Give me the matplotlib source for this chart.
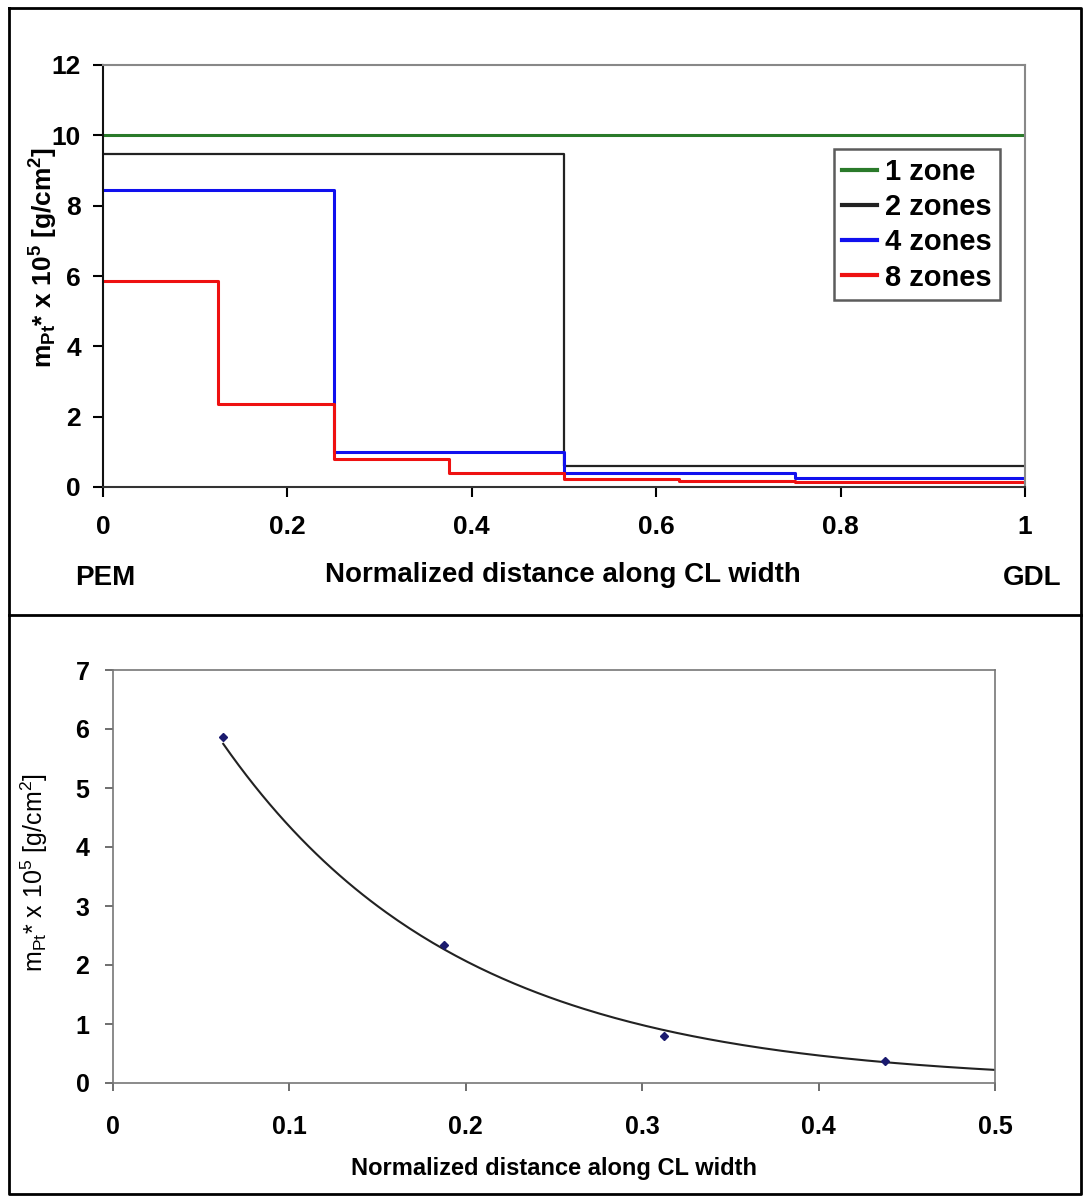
import matplotlib.pyplot as plt
import numpy as np
from matplotlib.lines import Line2D

plt.rcParams['font.family'] = ['Liberation Sans', 'DejaVu Sans']
plt.rcParams['mathtext.fontset'] = 'custom'
plt.rcParams['mathtext.rm'] = 'Liberation Sans'
plt.rcParams['mathtext.it'] = 'Liberation Sans:italic'
plt.rcParams['mathtext.bf'] = 'Liberation Sans:bold'

# top panel: step profiles of Pt loading per zone
edges_1 = [0, 1]
vals_1 = [10.0]
edges_2 = [0, 0.5, 1]
vals_2 = [9.47, 0.6]
edges_4 = [0, 0.25, 0.5, 0.75, 1]
vals_4 = [8.45, 1.0, 0.41, 0.27]
edges_8 = [0, 0.125, 0.25, 0.375, 0.5, 0.625, 0.75, 0.875, 1]
vals_8 = [5.85, 2.35, 0.8, 0.41, 0.24, 0.17, 0.13, 0.13]

# bottom panel: 8-zone midpoints with exponential trend line
pts_x = [0.0625, 0.1875, 0.3125, 0.4375]
pts_y = [5.87, 2.34, 0.79, 0.38]

fig = plt.figure(figsize=(10.83, 11.96), dpi=100)

# outer frame and divider
fig.add_artist(Line2D([0.008, 0.008, 0.9985, 0.9985, 0.008], [0.9935, 0.002, 0.002, 0.9935, 0.9935],
                      transform=fig.transFigure, color='black', lw=2))
fig.add_artist(Line2D([0.008, 0.9985], [1 - 615 / 1196] * 2, transform=fig.transFigure, color='black', lw=2))

ax1 = fig.add_axes([103 / 1083, 1 - 487 / 1196, 922 / 1083, 422 / 1196])


def steps(ax, edges, vals, **kw):
    y = list(vals) + [vals[-1]]
    ax.step(edges, y, where='post', **kw)


steps(ax1, edges_1, vals_1, color='#2a7a2a', lw=2.2, label='1 zone')
steps(ax1, edges_2, vals_2, color='#222222', lw=1.6, label='2 zones')
steps(ax1, edges_4, vals_4, color='#1010ee', lw=2.2, label='4 zones')
steps(ax1, edges_8, vals_8, color='#ee1111', lw=2.2, label='8 zones')

ax1.set_xlim(0, 1)
ax1.set_ylim(0, 12)
ax1.set_xticks([0, 0.2, 0.4, 0.6, 0.8, 1])
ax1.set_xticklabels(['0', '0.2', '0.4', '0.6', '0.8', '1'])
ax1.set_yticks([0, 2, 4, 6, 8, 10, 12])
ax1.tick_params(direction='out', length=7, width=1.5, labelsize=19)
ax1.tick_params(axis='x', pad=13)
ax1.tick_params(axis='y', pad=9)
for lab in ax1.get_xticklabels() + ax1.get_yticklabels():
    lab.set_fontweight('bold')
ax1.spines['left'].set_color('#111111')
ax1.spines['bottom'].set_color('#333333')
ax1.spines['top'].set_color('#888888')
ax1.spines['right'].set_color('#888888')
for s in ax1.spines.values():
    s.set_linewidth(1.5)
ax1.set_ylabel(r'm$_{\mathregular{Pt}}$* x 10$^{\mathregular{5}}$ [g/cm$^{\mathregular{2}}$]',
               fontsize=19, fontweight='bold')
ax1.yaxis.set_label_coords(-0.047, 0.545)
ax1.text(0.002, -0.216, 'PEM', transform=ax1.transAxes, fontsize=20, fontweight='bold', ha='center', va='center')
ax1.text(0.499, -0.209, 'Normalized distance along CL width', transform=ax1.transAxes,
         fontsize=20, fontweight='bold', ha='center', va='center')
ax1.text(1.008, -0.216, 'GDL', transform=ax1.transAxes, fontsize=20, fontweight='bold', ha='center', va='center')
leg = ax1.legend(loc='upper right', bbox_to_anchor=(0.973, 0.801), fontsize=21, frameon=True,
                 fancybox=False, edgecolor='#333333', handlelength=1.2, handletextpad=0.25,
                 borderpad=0.3, labelspacing=0.25, borderaxespad=0)
leg.get_frame().set_linewidth(1.8)
for t in leg.get_texts():
    t.set_fontweight('bold')
for h in leg.get_lines():
    h.set_linewidth(3)

# bottom panel
ax2 = fig.add_axes([113 / 1083, 1 - 1083 / 1196, 882 / 1083, 413 / 1196])
b, ln_a = np.polyfit(pts_x, np.log(pts_y), 1)
xs = np.linspace(pts_x[0], 0.5, 200)
ax2.plot(xs, np.exp(ln_a + b * xs), color='#222222', lw=1.5)
ax2.plot(pts_x, pts_y, linestyle='none', marker='D', markersize=4, color='#1a1a6e')
ax2.set_xlim(0, 0.5)
ax2.set_ylim(0, 7)
ax2.set_xticks([0, 0.1, 0.2, 0.3, 0.4, 0.5])
ax2.set_xticklabels(['0', '0.1', '0.2', '0.3', '0.4', '0.5'])
ax2.set_yticks(range(8))
ax2.tick_params(direction='out', length=6, width=1.2, labelsize=18, color='#555555')
ax2.tick_params(axis='x', pad=17)
ax2.tick_params(axis='y', pad=11)
for lab in ax2.get_xticklabels() + ax2.get_yticklabels():
    lab.set_fontweight('bold')
for s in ax2.spines.values():
    s.set_color('#777777')
    s.set_linewidth(1.2)
ax2.set_ylabel(r'm$_{\mathregular{Pt}}$* x 10$^{\mathregular{5}}$ [g/cm$^{\mathregular{2}}$]', fontsize=18)
ax2.yaxis.set_label_coords(-0.071, 0.51)
ax2.set_xlabel('Normalized distance along CL width', fontsize=17, fontweight='bold', labelpad=13)

fig.savefig('out.png', dpi=100)
